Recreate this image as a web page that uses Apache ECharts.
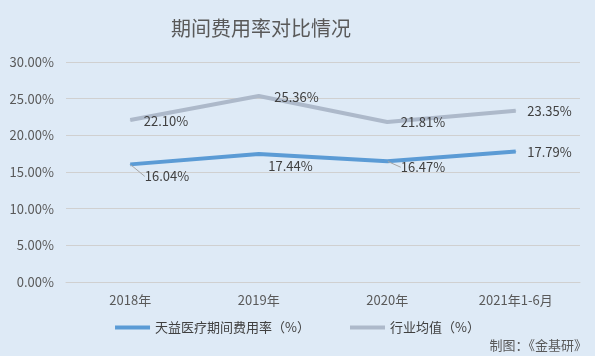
<!DOCTYPE html>
<html><head><meta charset="utf-8">
<script src="https://cdn.jsdelivr.net/npm/echarts@6/dist/echarts.min.js"></script>
<style>html,body{margin:0;padding:0;background:#deeaf6;}#c{width:595px;height:356px;}</style>
</head><body><div id="c"></div>
<script>
const categories = ['2018年','2019年','2020年','2021年1-6月'];
const companyName = '天益医疗期间费用率（%）';
const industryName = '行业均值（%）';
const companyValues = [16.04, 17.44, 16.47, 17.79];
const industryValues = [22.10, 25.36, 21.81, 23.35];
const yTicks = [0, 5, 10, 15, 20, 25, 30];

const font = '"Noto Sans CJK SC", "Microsoft YaHei", sans-serif';
const companyShift = [[4, 12], [-1, 12], [3, 6], [1, 1]];
const industryShift = [[3, 1], [5, 1], [3, 0], [1, 0]];
const companyLeader = [true, false, true, false];

const chart = echarts.init(document.getElementById('c'));
chart.setOption({
  backgroundColor: '#deeaf6',
  animation: false,
  title: {
    text: '期间费用率对比情况', left: 166, top: 13,
    textStyle: { fontFamily: font, fontSize: 20, fontWeight: 'normal', color: '#595959' }
  },
  graphic: [{
    type: 'text', right: 8, bottom: 4,
    style: { text: '制图：《金基研》', font: '13px ' + font, fill: '#595959' }
  }],
  legend: {
    bottom: 17, left: 'center', itemWidth: 35, itemHeight: 4, itemGap: 40,
    icon: 'rect',
    textStyle: { fontFamily: font, fontSize: 13, color: '#404040' },
    data: [companyName, industryName]
  },
  grid: { left: 66, right: 15, top: 62, bottom: 74 },
  xAxis: {
    type: 'category', data: categories, boundaryGap: true,
    axisLine: { show: true, lineStyle: { color: '#d0d0d0' } },
    axisTick: { show: false },
    axisLabel: { fontFamily: font, fontSize: 13, color: '#595959', margin: 12 }
  },
  yAxis: {
    type: 'value', min: 0, max: 30, interval: 5,
    axisLine: { show: false }, axisTick: { show: false },
    splitLine: { lineStyle: { color: '#d0d0d0' } },
    axisLabel: { fontFamily: font, fontSize: 13, color: '#595959', margin: 12,
      formatter: v => v.toFixed(2) + '%' }
  },
  series: [{
    name: companyName, type: 'line',
    data: companyValues.map((v, i) => ({ value: v, labelLine: { show: companyLeader[i] } })),
    symbol: 'circle', symbolSize: 1, showSymbol: true,
    lineStyle: { width: 4, color: '#5b9bd5' }, itemStyle: { color: '#5b9bd5' },
    label: { show: true, position: 'right', distance: 10, fontFamily: font, fontSize: 13, color: '#404040',
      formatter: p => p.value.toFixed(2) + '%' },
    labelLayout: p => ({ dx: companyShift[p.dataIndex][0], dy: companyShift[p.dataIndex][1] }),
    labelLine: { show: false, lineStyle: { color: '#a6a6a6', width: 1 } }
  }, {
    name: industryName, type: 'line', data: industryValues,
    symbol: 'circle', symbolSize: 1, showSymbol: true,
    lineStyle: { width: 4, color: '#adb9ca' }, itemStyle: { color: '#adb9ca' },
    label: { show: true, position: 'right', distance: 10, fontFamily: font, fontSize: 13, color: '#404040',
      formatter: p => p.value.toFixed(2) + '%' },
    labelLayout: p => ({ dx: industryShift[p.dataIndex][0], dy: industryShift[p.dataIndex][1] })
  }]
});
</script></body></html>
